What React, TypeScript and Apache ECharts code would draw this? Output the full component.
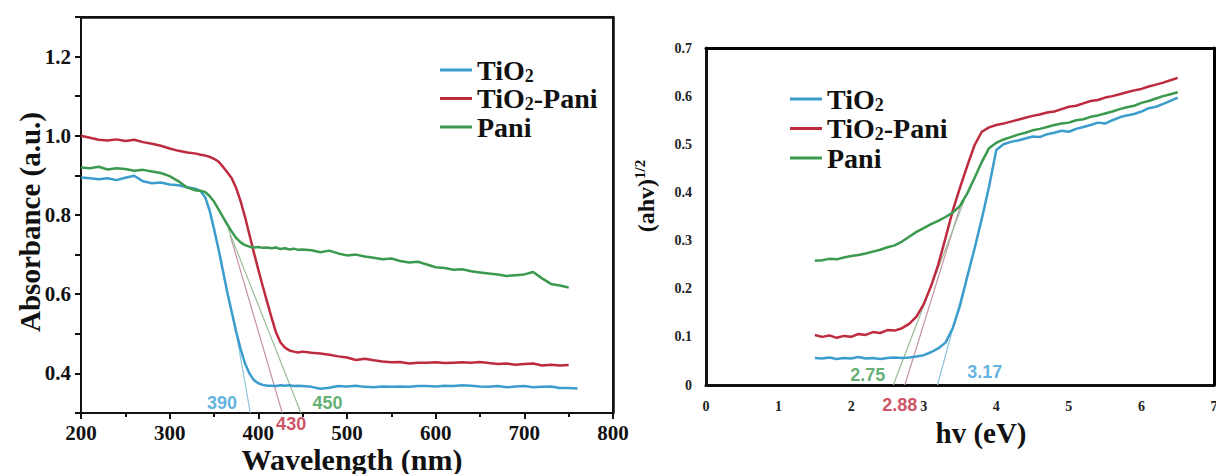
import React, { useEffect, useRef } from "react";
import * as echarts from "echarts";

// ---------- data ----------
const seriesNames = ["TiO2", "TiO2-Pani", "Pani"];
const colors = ["#3a9dcc", "#be2b3f", "#3b9a4d"];
const noteColors = ["#3aa0d8", "#c0263a", "#3c9a4e"];
const tangentColors = ["#8cc4dc", "#c394a4", "#98bc98"];

// Left panel: absorbance vs wavelength (nm)
const wavelength = [
  200, 210, 220, 230, 240, 250, 260, 270, 280, 290, 300, 310, 320, 330,
  335, 340, 345, 350, 355, 360, 365, 370, 375, 380, 385, 390, 395, 400, 405, 410, 415, 420, 425, 430, 435, 440, 445, 450,
  460, 470, 480, 490, 500, 510, 520, 530, 540, 550, 560, 570, 580, 590, 600, 610, 620, 630, 640, 650, 660, 670, 680, 690, 700, 710, 720, 730, 740, 750, 760,
];
const absTiO2 = [
  0.895, 0.893, 0.89, 0.893, 0.888, 0.894, 0.899, 0.885, 0.88, 0.882, 0.877, 0.875, 0.87, 0.866,
  0.86, 0.845, 0.812, 0.765, 0.715, 0.66, 0.605, 0.555, 0.505, 0.462, 0.425, 0.4, 0.383, 0.375, 0.371, 0.369, 0.369, 0.368, 0.37, 0.369, 0.37, 0.368, 0.369, 0.368,
  0.366, 0.361, 0.364, 0.368, 0.367, 0.369, 0.366, 0.365, 0.367, 0.366, 0.367, 0.366, 0.368, 0.368, 0.367, 0.369, 0.368, 0.37, 0.369, 0.367, 0.366, 0.368, 0.365, 0.367, 0.368, 0.365, 0.366, 0.367, 0.363, 0.363, 0.362,
];
const absTiO2Pani = [
  1.0, 0.995, 0.99, 0.988, 0.991, 0.987, 0.99, 0.984, 0.98, 0.975, 0.968, 0.962, 0.958, 0.955,
  0.952, 0.95, 0.947, 0.942, 0.935, 0.922, 0.908, 0.893, 0.868, 0.835, 0.795, 0.75, 0.705, 0.662, 0.62, 0.58, 0.54, 0.503, 0.478, 0.465, 0.458, 0.455, 0.453, 0.455,
  0.452, 0.45, 0.447, 0.443, 0.44, 0.434, 0.437, 0.433, 0.43, 0.428, 0.429, 0.425, 0.427, 0.427, 0.428, 0.426, 0.427, 0.428, 0.427, 0.429, 0.426, 0.424, 0.425, 0.422, 0.424, 0.425, 0.42, 0.422, 0.42, 0.421,
];
const absPani = [
  0.92, 0.918, 0.922, 0.915, 0.918, 0.916, 0.912, 0.914, 0.91, 0.906, 0.898, 0.885, 0.869, 0.862,
  0.861, 0.858, 0.848, 0.834, 0.815, 0.795, 0.776, 0.758, 0.742, 0.731, 0.724, 0.72, 0.718, 0.719, 0.717, 0.718, 0.716, 0.718, 0.714, 0.716, 0.713, 0.715, 0.712, 0.713,
  0.711, 0.706, 0.71, 0.703, 0.698, 0.7, 0.695, 0.692, 0.688, 0.69, 0.684, 0.68, 0.682, 0.675, 0.668, 0.666, 0.662, 0.663, 0.658, 0.655, 0.652, 0.65, 0.646, 0.648, 0.65, 0.656, 0.64, 0.626, 0.622, 0.617,
];
// thin extrapolation lines on the left panel [wavelength, absorbance]
const tangentLeft = [
  [[376, 0.49], [391, 0.3]],
  [[368, 0.75], [427, 0.3]],
  [[366, 0.765], [448, 0.3]],
];
const notesLeftText = ["390", "430", "450"];
const notesLeftPos = [[359, 0.326], [437, 0.272], [478, 0.326]];

// Right panel: (ahv)^1/2 vs hv (eV)
const energy = [
  1.5, 1.6, 1.7, 1.8, 1.9, 2.0, 2.1, 2.2, 2.3, 2.4, 2.5, 2.6, 2.7, 2.8, 2.9, 3.0, 3.1, 3.2, 3.3, 3.4, 3.5, 3.6, 3.7, 3.8, 3.9,
  4.0, 4.1, 4.2, 4.3, 4.4, 4.5, 4.6, 4.7, 4.8, 4.9, 5.0, 5.1, 5.2, 5.3, 5.4, 5.5, 5.6, 5.7, 5.8, 5.9, 6.0, 6.1, 6.2, 6.3, 6.4, 6.5,
];
const taucTiO2 = [
  0.056, 0.055, 0.057, 0.054, 0.056, 0.055, 0.058, 0.055, 0.056, 0.054, 0.056, 0.057, 0.056, 0.057, 0.059, 0.062, 0.068, 0.076, 0.088, 0.118, 0.165, 0.225, 0.283, 0.345, 0.412,
  0.488, 0.5, 0.505, 0.508, 0.512, 0.516, 0.515, 0.521, 0.524, 0.528, 0.526, 0.532, 0.536, 0.54, 0.545, 0.543, 0.55, 0.556, 0.56, 0.563, 0.568, 0.575, 0.578, 0.584, 0.59, 0.597,
];
const taucTiO2Pani = [
  0.104, 0.1, 0.103, 0.098, 0.102, 0.1, 0.106, 0.104, 0.11, 0.108, 0.114, 0.113, 0.118, 0.127, 0.142, 0.168, 0.205, 0.25, 0.305, 0.362, 0.41, 0.455, 0.498, 0.526, 0.535,
  0.54, 0.543, 0.547, 0.551, 0.555, 0.559, 0.562, 0.566, 0.568, 0.573, 0.578, 0.58, 0.585, 0.59, 0.592, 0.597, 0.6, 0.604, 0.608, 0.612, 0.615, 0.62, 0.624, 0.628, 0.633, 0.638,
];
const taucPani = [
  0.258, 0.259, 0.262, 0.261, 0.265, 0.268, 0.27, 0.273, 0.277, 0.281, 0.286, 0.29, 0.298, 0.308, 0.318, 0.326, 0.334, 0.341, 0.349, 0.358, 0.372, 0.398, 0.43, 0.463, 0.492,
  0.503, 0.51, 0.515, 0.52, 0.524, 0.529, 0.532, 0.536, 0.54, 0.543, 0.545, 0.55, 0.552, 0.557, 0.56, 0.564, 0.568, 0.573, 0.577, 0.58, 0.586, 0.59, 0.595, 0.6, 0.604, 0.608,
];
const tangentRight = [
  [[3.19, 0], [3.55, 0.2]],
  [[2.74, 0], [3.53, 0.384]],
  [[2.58, 0], [3.56, 0.384]],
];
const notesRightText = ["3.17", "2.88", "2.75"];
const notesRightPos = [[3.84, 0.027], [2.67, -0.042], [2.23, 0.021]];

const leftXTicks = { min: 200, max: 800, interval: 100 };
const leftYTicks = { min: 0.3, max: 1.3, interval: 0.1 };
const rightXTicks = { min: 0, max: 7, interval: 1 };
const rightYTicks = { min: 0, max: 0.7, interval: 0.1 };

// ---------- layout ----------
const GRID_L = { left: 81, top: 17, width: 532, height: 396 };
const GRID_R = { left: 706, top: 48, width: 508, height: 337 };

// ---------- helpers ----------
const SERIF = "'Liberation Serif', 'Times New Roman', serif";
const SANS = "'Liberation Sans', Arial, sans-serif";
const zip = (xs: number[], ys: number[]) => ys.map((y, i) => [xs[i], y]);

const legendFormatter = (name: string) => {
  if (name.startsWith("TiO2")) {
    const rest = name.slice(4);
    return "{a|TiO}{s|2}" + (rest ? "{a|" + rest + "}" : "");
  }
  return "{a|" + name + "}";
};
const legendRich = {
  a: { fontFamily: SERIF, fontWeight: "bold", fontSize: 28, lineHeight: 29, color: "#111" },
  s: { fontFamily: SERIF, fontWeight: "bold", fontSize: 18, lineHeight: 18, verticalAlign: "bottom", color: "#111" },
};

function frameAxes(gridIndex: number, xr: any, yr: any, w: number, color: string) {
  const common = {
    type: "value", gridIndex, show: true, z: 10,
    axisLine: { show: true, onZero: false, lineStyle: { color, width: w } },
    axisTick: { show: false }, axisLabel: { show: false }, splitLine: { show: false },
  };
  return {
    x: { ...common, ...xr, position: "top" },
    y: { ...common, ...yr, position: "right" },
  };
}

const titleGraphics: any[] = [
  {
    type: "text", x: 30, y: 222, rotation: Math.PI / 2,
    style: {
      text: "Absorbance (a.u.)", fill: "#111", font: "bold 29px " + SERIF,
      textAlign: "center", textVerticalAlign: "middle", align: "center", verticalAlign: "middle",
    },
  },
  {
    type: "text", x: 352, y: 459,
    style: {
      text: "Wavelength (nm)", fill: "#111", font: "bold 30px " + SERIF,
      textAlign: "center", textVerticalAlign: "middle", align: "center", verticalAlign: "middle",
    },
  },
  {
    type: "text", x: 646, y: 196, rotation: Math.PI / 2,
    style: {
      text: "{m|(ahv)}{s|1/2}", fill: "#111",
      textAlign: "center", textVerticalAlign: "middle", align: "center", verticalAlign: "middle",
      rich: {
        m: { fontFamily: SERIF, fontWeight: "bold", fontSize: 24, lineHeight: 28, fill: "#111" },
        s: { fontFamily: SERIF, fontWeight: "bold", fontSize: 15, lineHeight: 15, verticalAlign: "top", fill: "#111" },
      },
    },
  },
  {
    type: "text", x: 981, y: 433,
    style: {
      text: "hv (eV)", fill: "#111", font: "bold 29px " + SERIF,
      textAlign: "center", textVerticalAlign: "middle", align: "center", verticalAlign: "middle",
    },
  },
];

function buildOption() {
  const leftData = [absTiO2, absTiO2Pani, absPani];
  const rightData = [taucTiO2, taucTiO2Pani, taucPani];
  const series: any[] = [];

  tangentLeft.forEach((seg, i) =>
    series.push({
      type: "line", name: "tanL" + i, xAxisIndex: 0, yAxisIndex: 0, data: seg, symbol: "none",
      lineStyle: { width: 1.2, color: tangentColors[i] }, silent: true, z: 1,
    })
  );
  tangentRight.forEach((seg, i) =>
    series.push({
      type: "line", name: "tanR" + i, xAxisIndex: 1, yAxisIndex: 1, data: seg, symbol: "none",
      lineStyle: { width: 1.2, color: tangentColors[i] }, silent: true, z: 1,
    })
  );
  seriesNames.forEach((n, i) => {
    series.push({
      type: "line", name: n, xAxisIndex: 0, yAxisIndex: 0, data: zip(wavelength, leftData[i]),
      symbol: "none", lineStyle: { width: 2.5, color: colors[i] }, itemStyle: { color: colors[i] }, z: 3,
    });
    series.push({
      type: "line", name: n, xAxisIndex: 1, yAxisIndex: 1, data: zip(energy, rightData[i]),
      symbol: "none", lineStyle: { width: 2.5, color: colors[i] }, itemStyle: { color: colors[i] }, z: 3,
    });
  });
  series.push({
    type: "scatter", name: "notesL", xAxisIndex: 0, yAxisIndex: 0, symbolSize: 0, clip: false, silent: true,
    data: notesLeftText.map((t, i) => ({
      name: t, value: notesLeftPos[i],
      label: { show: true, position: "inside", formatter: t, color: noteColors[i], fontFamily: SANS, fontWeight: "bold", fontSize: 18 },
    })),
  });
  series.push({
    type: "scatter", name: "notesR", xAxisIndex: 1, yAxisIndex: 1, symbolSize: 0, clip: false, silent: true,
    data: notesRightText.map((t, i) => ({
      name: t, value: notesRightPos[i],
      label: { show: true, position: "inside", formatter: t, color: noteColors[i], fontFamily: SANS, fontWeight: "bold", fontSize: 18 },
    })),
  });

  const axisLine = (w: number) => ({ show: true, onZero: false, lineStyle: { color: "#111", width: w } });
  const f0 = frameAxes(0, leftXTicks, leftYTicks, 2.5, "#111");
  const f1 = frameAxes(1, rightXTicks, rightYTicks, 3, "#000");

  return {
    animation: false,
    backgroundColor: "#fff",
    grid: [
      { ...GRID_L, outerBoundsMode: "none" },
      { ...GRID_R, outerBoundsMode: "none" },
    ],
    legend: [
      {
        data: seriesNames, orient: "vertical", left: 440, top: 56, padding: 0, itemGap: 0,
        icon: "rect", itemWidth: 32, itemHeight: 3, selectedMode: false,
        formatter: legendFormatter, textStyle: { rich: legendRich },
      },
      {
        data: seriesNames, orient: "vertical", left: 790, top: 85, padding: 0, itemGap: 1,
        icon: "rect", itemWidth: 32, itemHeight: 3, selectedMode: false,
        formatter: legendFormatter, textStyle: { rich: legendRich },
      },
    ],
    xAxis: [
      {
        type: "value", gridIndex: 0, ...leftXTicks, position: "bottom",
        axisLine: axisLine(2),
        axisTick: { show: true, inside: false, length: 6, lineStyle: { color: "#111", width: 2 } },
        minorTick: { show: true, splitNumber: 2, length: 4, lineStyle: { color: "#111", width: 2 } },
        splitLine: { show: false },
        axisLabel: { fontFamily: SERIF, fontWeight: "bold", fontSize: 21, color: "#111", margin: 9 },
      },
      {
        type: "value", gridIndex: 1, ...rightXTicks, position: "bottom",
        axisLine: axisLine(3),
        axisTick: { show: false },
        splitLine: { show: false },
        axisLabel: { fontFamily: SERIF, fontWeight: "bold", fontSize: 14, color: "#222", margin: 14 },
      },
      f0.x,
      f1.x,
    ],
    yAxis: [
      {
        type: "value", gridIndex: 0, ...leftYTicks, position: "left",
        axisLine: axisLine(2),
        axisTick: { show: true, inside: false, length: 6, lineStyle: { color: "#111", width: 2 } },
        splitLine: { show: false },
        axisLabel: {
          fontFamily: SERIF, fontWeight: "bold", fontSize: 21, color: "#111", margin: 10,
          formatter: (v: number) => (Math.round(v * 10) % 2 === 0 ? v.toFixed(1) : ""),
        },
      },
      {
        type: "value", gridIndex: 1, ...rightYTicks, position: "left",
        axisLine: axisLine(3),
        axisTick: { show: false },
        splitLine: { show: false },
        axisLabel: {
          fontFamily: SERIF, fontWeight: "bold", fontSize: 14, color: "#222", margin: 14,
          formatter: (v: number) => (v === 0 ? "0" : v.toFixed(1)),
        },
      },
      f0.y,
      f1.y,
    ],
    graphic: titleGraphics,
    series,
  };
}

export default function App() {
  const ref = useRef<HTMLDivElement>(null);
  useEffect(() => {
    if (!ref.current) return;
    const chart = echarts.init(ref.current, null, { renderer: "svg" });
    chart.setOption(buildOption() as any);
    return () => chart.dispose();
  }, []);
  return (
    <div style={{ position: "fixed", left: 0, top: 0, width: 1216, height: 474, background: "#fff" }}>
      <div ref={ref} style={{ position: "absolute", left: 0, top: 0, width: 1216, height: 474 }} />
      {/* top and right edges of the left panel's frame */}
      <div
        style={{
          position: "absolute",
          left: GRID_L.left,
          top: GRID_L.top - 1,
          width: GRID_L.width + 1,
          height: GRID_L.height + 1,
          borderTop: "2.5px solid #111",
          borderRight: "2.5px solid #111",
          boxSizing: "border-box",
          pointerEvents: "none",
        }}
      />
    </div>
  );
}
